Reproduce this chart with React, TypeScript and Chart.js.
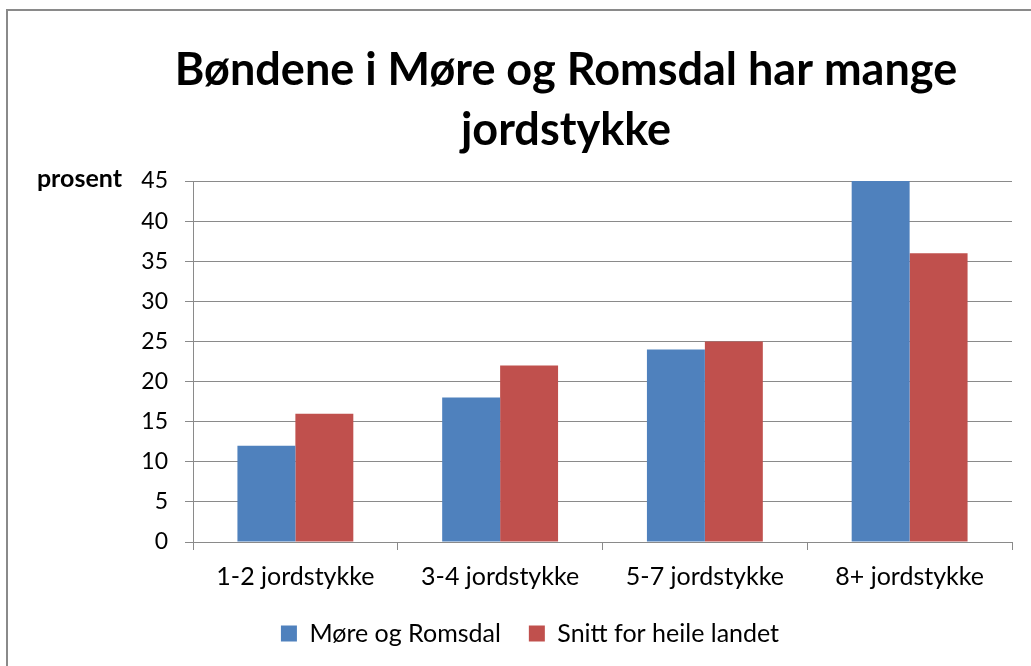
import React, { useEffect, useRef } from "react";
import { Chart, registerables } from "chart.js";

Chart.register(...registerables);

const titleLines = ["Bøndene i Møre og Romsdal har mange", "jordstykke"];
const yAxisLabel = "prosent";
const categories = ["1-2 jordstykke", "3-4 jordstykke", "5-7 jordstykke", "8+ jordstykke"];
const seriesNames = ["Møre og Romsdal", "Snitt for heile landet"];
const moreRomsdal = [12, 18, 24, 45];
const heileLandet = [16, 22, 25, 36];
const seriesColors = ["#4F81BD", "#C0504D"];

const FONT = "Lato, 'Open Sans', sans-serif";

const decorPlugin = {
  id: "decor",
  beforeDraw(chart: any) {
    const ctx = chart.ctx;
    ctx.save();
    ctx.strokeStyle = "#8a8a8a";
    ctx.lineWidth = 2;
    ctx.beginPath();
    ctx.moveTo(7, 700);
    ctx.lineTo(7, 10);
    ctx.lineTo(1100, 10);
    ctx.stroke();
    ctx.restore();
  },
  afterDraw(chart: any) {
    const ctx = chart.ctx;
    const area = chart.chartArea;
    ctx.save();
    ctx.fillStyle = "#000";
    ctx.textAlign = "center";
    ctx.textBaseline = "middle";
    ctx.font = `bold 45px ${FONT}`;
    ctx.fillText(titleLines[0], 566, 70);
    ctx.fillText(titleLines[1], 566, 130);
    ctx.textAlign = "right";
    ctx.font = `bold 25px ${FONT}`;
    ctx.fillText(yAxisLabel, 122, area.top - 2);
    ctx.restore();
  },
};

export default function App() {
  const ref = useRef<HTMLCanvasElement | null>(null);
  useEffect(() => {
    document.body.style.margin = "0";
    const chart = new Chart(ref.current as HTMLCanvasElement, {
      type: "bar",
      data: {
        labels: categories,
        datasets: [
          { label: seriesNames[0], data: moreRomsdal, backgroundColor: seriesColors[0] },
          { label: seriesNames[1], data: heileLandet, backgroundColor: seriesColors[1] },
        ],
      },
      options: {
        animation: false,
        responsive: false,
        maintainAspectRatio: false,
        layout: { padding: { top: 181, left: 48, right: 19, bottom: 10 } },
        datasets: { bar: { barPercentage: 1, categoryPercentage: 0.566 } },
        plugins: {
          title: { display: false },
          tooltip: { enabled: false },
          legend: {
            position: "bottom",
            labels: {
              boxWidth: 16,
              boxHeight: 16,
              padding: 28,
              color: "#000",
              font: { family: FONT, size: 25 },
            },
          },
        },
        scales: {
          x: {
            offset: true,
            grid: {
              display: true,
              offset: true,
              drawOnChartArea: false,
              drawTicks: true,
              tickLength: 8,
              color: "#8a8a8a",
            },
            border: { display: true, color: "#8a8a8a", width: 1 },
            ticks: { color: "#000", font: { family: FONT, size: 25 }, padding: 12, maxRotation: 0 },
            afterFit: (scale: any) => {
              scale.height = 51;
            },
          },
          y: {
            min: 0,
            max: 45,
            ticks: { stepSize: 5, color: "#000", font: { family: FONT, size: 23 }, padding: 17 },
            grid: { color: "#8a8a8a", tickLength: 8, lineWidth: 1 },
            border: { display: true, color: "#8a8a8a", width: 1 },
            afterFit: (scale: any) => {
              scale.width = 145;
            },
          },
        },
      },
      plugins: [decorPlugin],
    });
    return () => chart.destroy();
  }, []);
  return (
    <div style={{ position: "absolute", left: 0, top: 0, width: 1031, height: 666 }}>
      <canvas ref={ref} width={1031} height={666} style={{ width: 1031, height: 666 }} />
    </div>
  );
}
